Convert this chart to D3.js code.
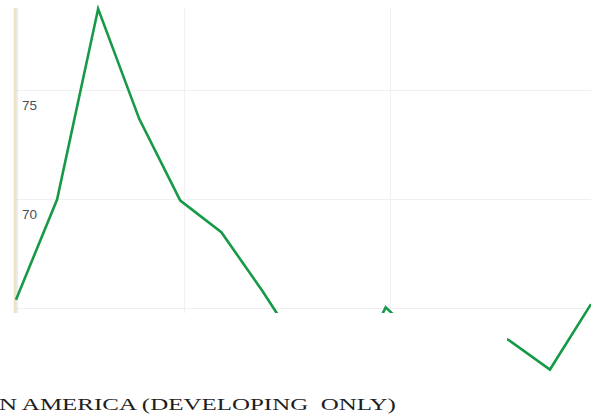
<!DOCTYPE html>
<html><head><meta charset="utf-8">
<script src="https://cdn.jsdelivr.net/npm/d3@7"></script>
<style>html,body{margin:0;padding:0;background:#fff;overflow:hidden}</style>
</head><body>
<script>
const xIndex = [0,1,2,3,4,5,6,7,8,9,10,11,12,13,14];
const values = [65.4,70.0,78.75,73.7,69.95,68.5,65.8,62.9,61.2,65.05,63.3,64.4,63.55,62.2,65.2];
const yTicks = [65,70,75];
const yTickLabels = ["65","70","75"];
const xGrid = [4.09,9.1];
const caption = "LATIN AMERICA (DEVELOPING  ONLY)";

(function(){
const W=591,H=415;
const svg=d3.select("body").append("svg").attr("width",W).attr("height",H);
const x=d3.scaleLinear().domain([0,14]).range([16,591]);
const y=d3.scaleLinear().domain([65,75]).range([308.5,90.5]);
const plotTop=8, plotBottom=313;

const defs=svg.append("defs");
const cp=defs.append("clipPath").attr("id","cp");
cp.append("rect").attr("x",0).attr("y",0).attr("width",W).attr("height",plotBottom);
cp.append("rect").attr("x",507).attr("y",0).attr("width",W-507).attr("height",H);
defs.append("clipPath").attr("id","cpPlot").append("rect")
  .attr("x",0).attr("y",0).attr("width",W).attr("height",plotBottom);

svg.append("g").selectAll("line").data(yTicks).join("line")
  .attr("x1",16).attr("x2",W).attr("y1",d=>y(d)).attr("y2",d=>y(d))
  .attr("stroke","#efefef").attr("stroke-width",1.2);
svg.append("g").selectAll("line").data(xGrid).join("line")
  .attr("x1",d=>Math.round(x(d))+0.5).attr("x2",d=>Math.round(x(d))+0.5).attr("y1",plotTop).attr("y2",plotBottom)
  .attr("stroke","#f1f1f1").attr("stroke-width",1.2);

svg.append("line").attr("x1",15).attr("x2",15).attr("y1",plotTop).attr("y2",plotBottom)
  .attr("stroke","#f0e0c6").attr("stroke-width",2.5);
svg.append("line").attr("x1",17).attr("x2",17).attr("y1",plotTop).attr("y2",plotBottom)
  .attr("stroke","#dcd8d2").attr("stroke-width",1);

svg.append("g").attr("clip-path","url(#cpPlot)").selectAll("text").data(yTicks).join("text")
  .attr("x",22).attr("y",d=>y(d)+19.5)
  .attr("font-family","Liberation Sans, Arial, sans-serif").attr("font-size",13.5)
  .attr("fill","#4a4f5a").text((d,i)=>yTickLabels[i]);

const line=d3.line().x((d,i)=>x(xIndex[i])).y(d=>y(d));
svg.append("path").datum(values).attr("d",line).attr("clip-path","url(#cp)")
  .attr("fill","none").attr("stroke","#179a48").attr("stroke-width",2.6)
  .attr("stroke-linejoin","miter");

const cap=svg.append("text").attr("x",0).attr("y",0)
  .attr("font-family","Liberation Serif, Times New Roman, serif").attr("font-size",16.5)
  .style("white-space","pre")
  .attr("fill","#1e1e1e").text(caption);
const node=cap.node();
const L=node.getComputedTextLength();
const l=node.getSubStringLength(0,4);
const s=397/(L-l);
cap.attr("transform",`translate(${-l*s-1},409.5) scale(${s},1)`);
})();
</script>
</body></html>
